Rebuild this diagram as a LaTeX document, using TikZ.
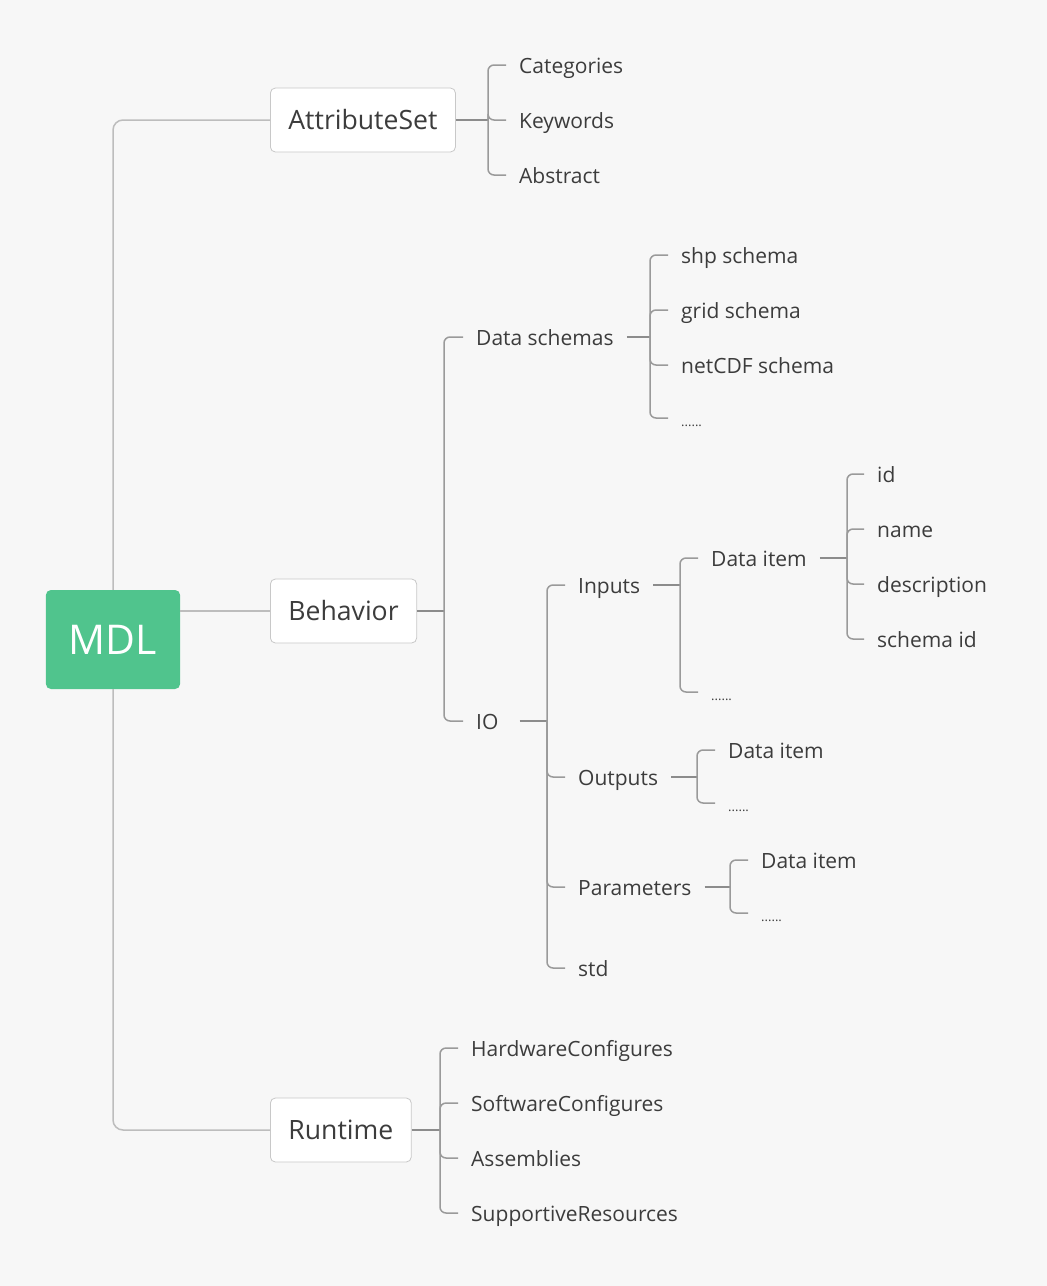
\documentclass[tikz,border=0pt]{standalone}
\usepackage{fontspec}
\setmainfont{Open Sans}
\definecolor{bg}{HTML}{F7F7F7}
\definecolor{txt}{HTML}{3C3C3C}
\definecolor{lone}{HTML}{BDBDBD}
\definecolor{lbr}{HTML}{9A9A9A}
\definecolor{lst}{HTML}{8C8C8C}
\definecolor{boxb}{HTML}{C8C8C8}
\definecolor{mdlg}{HTML}{50C48D}
\begin{document}
\begin{tikzpicture}[x=1pt,y=-1pt,
  leaf/.style={anchor=west,inner xsep=13pt,inner ysep=0pt,text=txt,
    font=\fontsize{21}{25}\selectfont,text height=20pt,text depth=4pt},
  topic/.style={draw=boxb,line width=0.8pt,fill=white,rounded corners=5pt,
    anchor=west,inner xsep=18pt,inner ysep=0pt,minimum height=64pt,text=txt,
    font=\fontsize{26.6}{32}\selectfont,text height=19.2pt,text depth=0pt},
  root/.style={fill=mdlg,rounded corners=5pt,text=white,inner xsep=23pt,inner ysep=0pt,
    minimum height=99pt,font=\fontsize{41}{48}\selectfont,text height=29.5pt,text depth=0pt},
  lvl1/.style={draw=lone,line width=1.5pt,rounded corners=10pt},
  stem/.style={draw=lst,line width=2pt},
  brk/.style={draw=lbr,line width=1.5pt,rounded corners=6pt},
]
\fill[bg] (0,0) rectangle (1047,1286);
\useasboundingbox (0,0) rectangle (1047,1286);

% root and topics
\node[root] (mdl) at (113,639.5) {MDL};
\node[topic] (attr) at (270,120) {AttributeSet};
\node[topic] (beh) at (270,611) {Behavior};
\node[topic] (run) at (270,1130) {Runtime};

\draw[lvl1] (mdl.north) |- (attr.west);
\draw[lvl1] (mdl.east |- beh.west) -- (beh.west);
\draw[lvl1] (mdl.south) |- (run.west);

% AttributeSet
\coordinate (bA) at (488,120);
\node[leaf] (cat) at (506,65) {Categories};
\node[leaf] (key) at (506,120) {Keywords};
\node[leaf] (abs) at (506,175) {Abstract};
\draw[stem] (attr.east) -- (bA);
\foreach \c in {cat,key,abs} \draw[brk] (bA) |- (\c.west);

% Behavior
\coordinate (bB) at (444,611);
\node[leaf] (ds) at (463,337) {Data schemas};
\node[leaf] (io) at (463,721) {IO};
\draw[stem] (beh.east) -- (bB);
\foreach \c in {ds,io} \draw[brk] (bB) |- (\c.west);

% Data schemas
\coordinate (bDS) at (650,337);
\node[leaf] (shp) at (668,255) {shp schema};
\node[leaf] (grid) at (668,310) {grid schema};
\node[leaf] (nc) at (668,365) {netCDF schema};
\node[leaf] (dsd) at (668,418) {\fontsize{13}{13}\selectfont ......};
\draw[stem] (ds.east) -- (bDS);
\foreach \c in {shp,grid,nc,dsd} \draw[brk] (bDS) |- (\c.west);

% IO
\coordinate (bIO) at (547,721);
\node[leaf] (inp) at (565,585) {Inputs};
\node[leaf] (out) at (565,777) {Outputs};
\node[leaf] (par) at (565,887) {Parameters};
\node[leaf] (std) at (565,968) {std};
\draw[stem] (io.east) ++(8,0) -- (bIO);
\foreach \c in {inp,out,par,std} \draw[brk] (bIO) |- (\c.west);

% Inputs
\coordinate (bIn) at (680,585);
\node[leaf] (di1) at (698,558) {Data item};
\node[leaf] (ind) at (698,692) {\fontsize{13}{13}\selectfont ......};
\draw[stem] (inp.east) -- (bIn);
\foreach \c in {di1,ind} \draw[brk] (bIn) |- (\c.west);

% Data item fields
\coordinate (bDI) at (847,558);
\node[leaf] (id) at (864,474) {id};
\node[leaf] (nm) at (864,529) {name};
\node[leaf] (desc) at (864,584) {description};
\node[leaf] (sid) at (864,639) {schema id};
\draw[stem] (di1.east) -- (bDI);
\foreach \c in {id,nm,desc,sid} \draw[brk] (bDI) |- (\c.west);

% Outputs
\coordinate (bOut) at (697,777);
\node[leaf] (di2) at (715,750) {Data item};
\node[leaf] (outd) at (715,803) {\fontsize{13}{13}\selectfont ......};
\draw[stem] (out.east) -- (bOut);
\foreach \c in {di2,outd} \draw[brk] (bOut) |- (\c.west);

% Parameters
\coordinate (bPar) at (730,887);
\node[leaf] (di3) at (748,860) {Data item};
\node[leaf] (pard) at (748,913) {\fontsize{13}{13}\selectfont ......};
\draw[stem] (par.east) -- (bPar);
\foreach \c in {di3,pard} \draw[brk] (bPar) |- (\c.west);

% Runtime
\coordinate (bR) at (440,1130);
\node[leaf] (hw) at (458,1048) {HardwareConfigures};
\node[leaf] (sw) at (458,1103) {SoftwareConfigures};
\node[leaf] (as) at (458,1158) {Assemblies};
\node[leaf] (sr) at (458,1213) {SupportiveResources};
\draw[stem] (run.east) -- (bR);
\foreach \c in {hw,sw,as,sr} \draw[brk] (bR) |- (\c.west);
\end{tikzpicture}
\end{document}
